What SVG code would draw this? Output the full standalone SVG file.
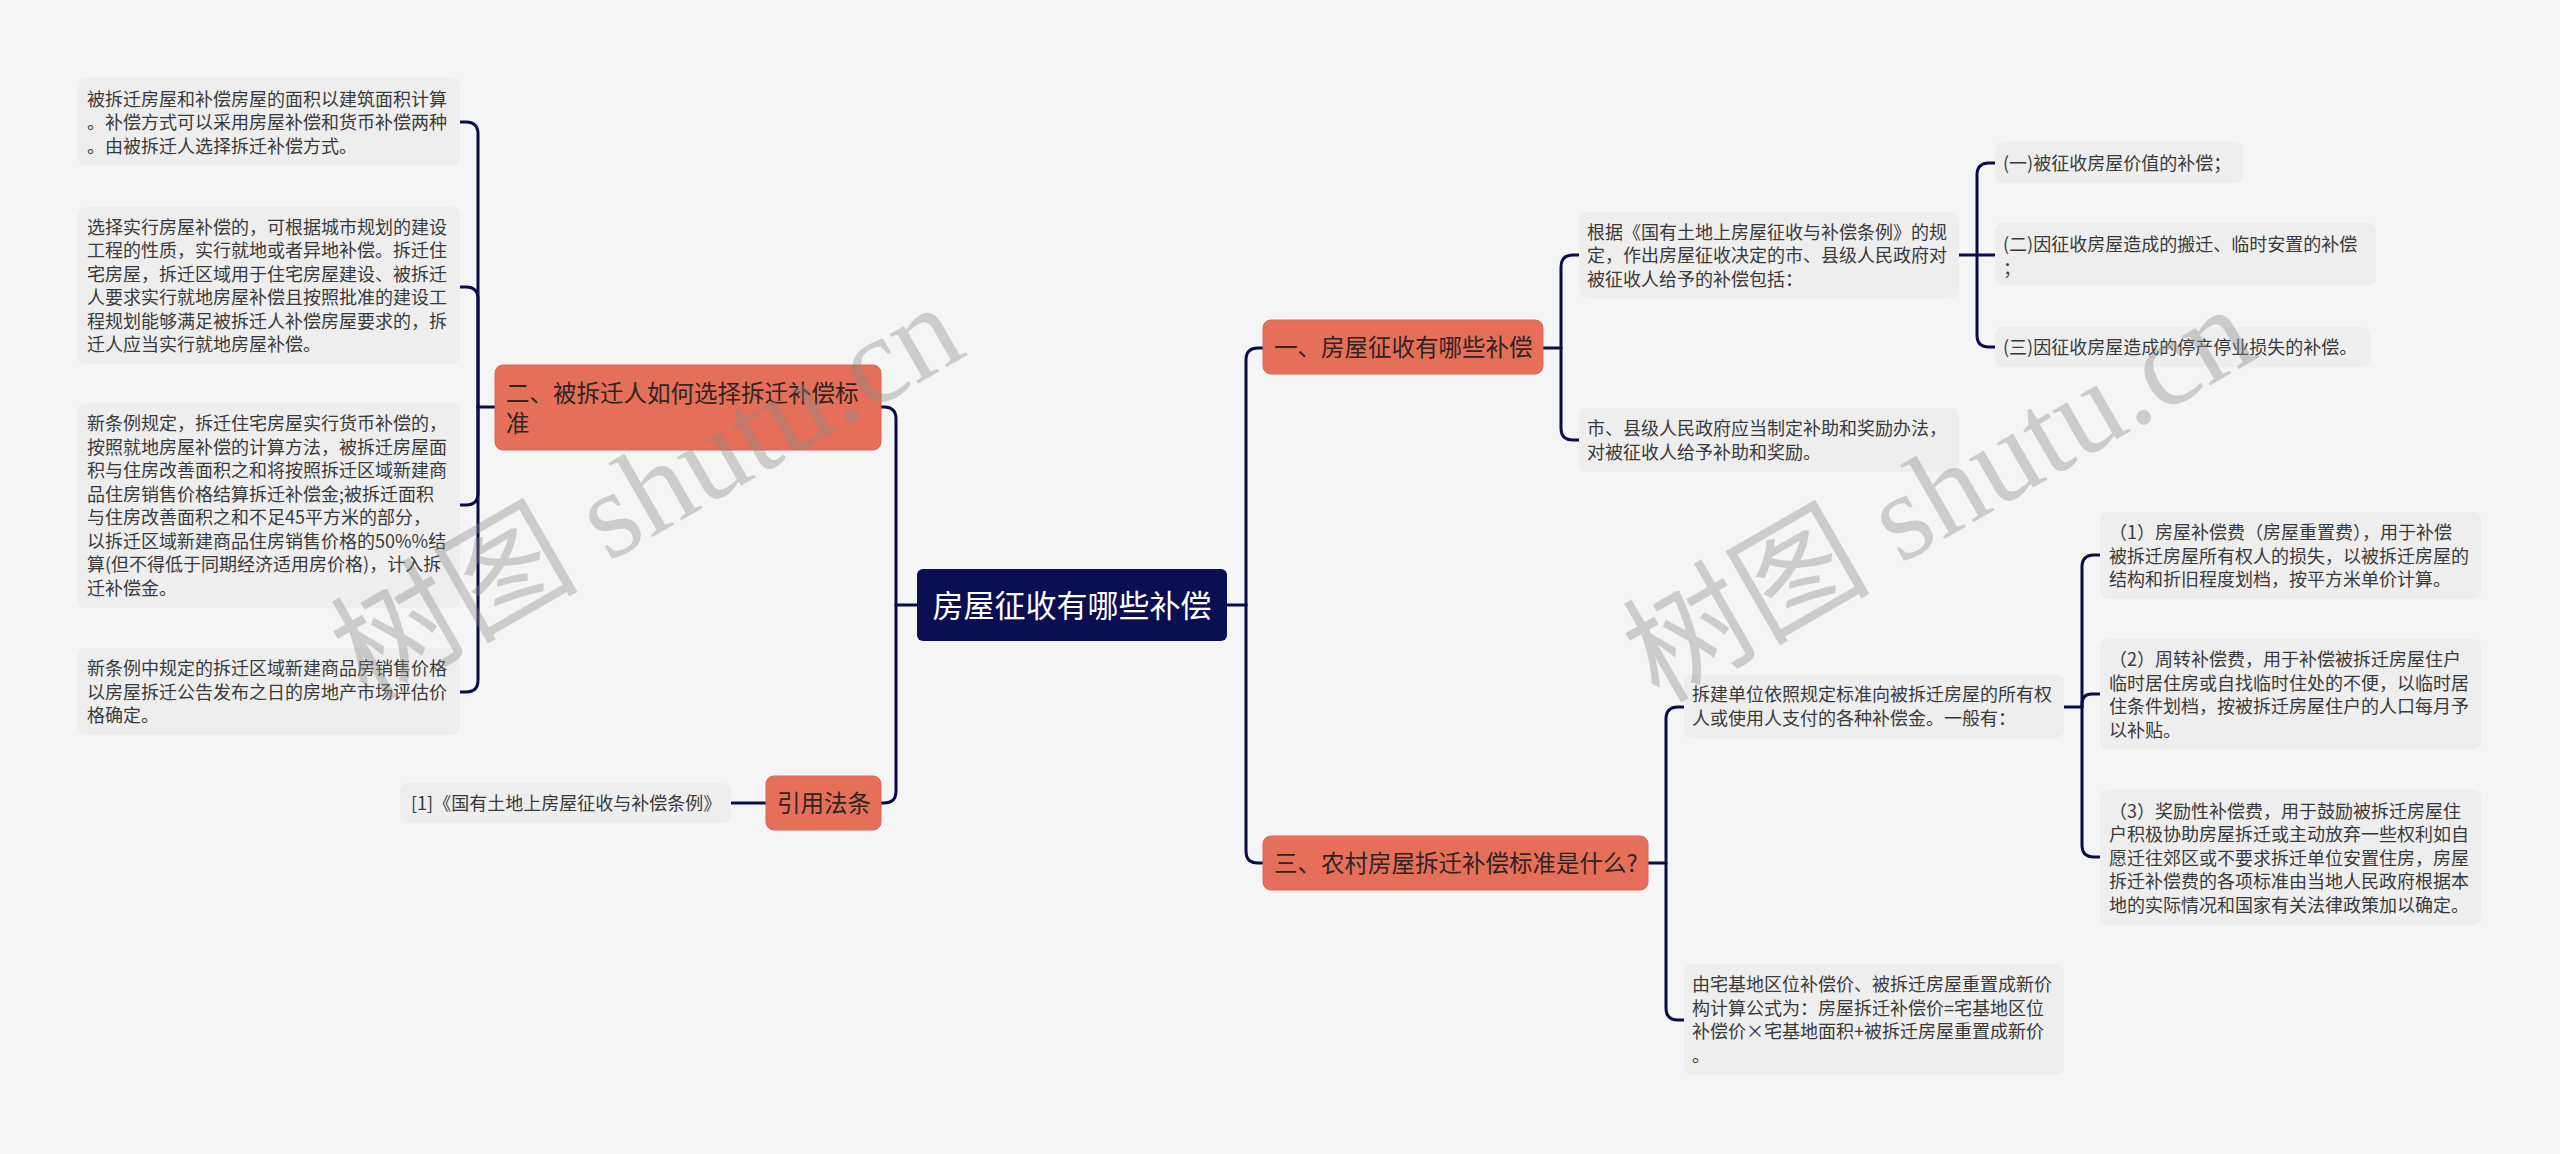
<svg xmlns="http://www.w3.org/2000/svg" width="2560" height="1154" viewBox="0 0 2560 1154">
<style>
.leaf{fill:#eeeeee;}
.lt{font-family:"Noto Sans CJK SC","Noto Sans",sans-serif;font-size:18px;fill:#3a3a3a;}
.br{fill:#e66f5a;stroke:#dc6650;stroke-width:1;}
.bt{font-family:"Noto Sans CJK SC","Noto Sans",sans-serif;font-size:23.5px;fill:#2e2523;}
.ct{font-family:"Noto Sans CJK SC","Noto Sans",sans-serif;font-size:31px;fill:#ffffff;}
.conn path{fill:none;stroke:#0b0d4a;stroke-width:3;stroke-linecap:round;}
.wm{font-family:"Liberation Serif","Noto Sans CJK SC",serif;font-size:124px;fill:#8a8a8a;fill-opacity:0.38;}
</style>
<rect x="0" y="0" width="2560" height="1154" fill="#f5f5f5"/>

<g id="connectors" class="conn">
<path d="M917,605 H896"/>
<path d="M896,605 V419 Q896,407 884,407 H881"/>
<path d="M896,605 V791 Q896,803 884,803 H881"/>
<path d="M495,407 H478"/>
<path d="M478,407 V134 Q478,122 466,122 H460"/>
<path d="M478,407 V299 Q478,287 466,287 H460"/>
<path d="M478,407 V493 Q478,505 466,505 H460"/>
<path d="M478,407 V680 Q478,692 466,692 H460"/>
<path d="M766,803 H731"/>
<path d="M1227,605 H1246"/>
<path d="M1246,605 V360 Q1246,348 1258,348 H1263"/>
<path d="M1246,605 V851 Q1246,863 1258,863 H1263"/>
<path d="M1543,348 H1561"/>
<path d="M1561,348 V267 Q1561,255 1573,255 H1579"/>
<path d="M1561,348 V428 Q1561,440 1573,440 H1579"/>
<path d="M1959,255 H1995"/>
<path d="M1977,255 V175 Q1977,163 1989,163 H1995"/>
<path d="M1977,255 V335 Q1977,347 1989,347 H1995"/>
<path d="M1648,863 H1666"/>
<path d="M1666,863 V719 Q1666,707 1678,707 H1684"/>
<path d="M1666,863 V1008 Q1666,1020 1678,1020 H1684"/>
<path d="M2064,707 H2082"/>
<path d="M2082,707 V567 Q2082,555 2094,555 H2100"/>
<path d="M2082,707 V704 Q2082,694 2092,694 H2100"/>
<path d="M2082,707 V845 Q2082,857 2094,857 H2100"/>
</g>

<g id="root">
<rect x="917" y="569" width="310" height="72" rx="6" fill="#0a0e52"/>
<text class="ct" x="1072" y="617" text-anchor="middle">房屋征收有哪些补偿</text>
</g>

<g id="b2">
<rect class="br" x="495" y="365" width="386" height="85" rx="8"/>
<text class="bt" x="506" y="402">二、被拆迁人如何选择拆迁补偿标<tspan x="506" dy="30">准</tspan></text>
</g>

<g id="ref">
<rect class="br" x="766" y="776" width="115" height="54" rx="8"/>
<text class="bt" x="777" y="812">引用法条</text>
</g>

<g id="ref1">
<rect class="leaf" x="400" y="783" width="331" height="40" rx="8"/>
<text class="lt" x="411" y="810">[1]《国有土地上房屋征收与补偿条例》</text>
</g>

<g id="l1">
<rect class="leaf" x="78" y="78" width="382" height="88" rx="8"/>
<text class="lt" x="87" y="105.5">被拆迁房屋和补偿房屋的面积以建筑面积计算<tspan x="87" dy="23.5">。补偿方式可以采用房屋补偿和货币补偿两种</tspan><tspan x="87" dy="23.5">。由被拆迁人选择拆迁补偿方式。</tspan></text>
</g>

<g id="l2">
<rect class="leaf" x="78" y="207" width="382" height="157" rx="8"/>
<text class="lt" x="87" y="233.75">选择实行房屋补偿的，可根据城市规划的建设<tspan x="87" dy="23.5">工程的性质，实行就地或者异地补偿。拆迁住</tspan><tspan x="87" dy="23.5">宅房屋，拆迁区域用于住宅房屋建设、被拆迁</tspan><tspan x="87" dy="23.5">人要求实行就地房屋补偿且按照批准的建设工</tspan><tspan x="87" dy="23.5">程规划能够满足被拆迁人补偿房屋要求的，拆</tspan><tspan x="87" dy="23.5">迁人应当实行就地房屋补偿。</tspan></text>
</g>

<g id="l3">
<rect class="leaf" x="78" y="403" width="382" height="205" rx="8"/>
<text class="lt" x="87" y="430.25">新条例规定，拆迁住宅房屋实行货币补偿的，<tspan x="87" dy="23.5">按照就地房屋补偿的计算方法，被拆迁房屋面</tspan><tspan x="87" dy="23.5">积与住房改善面积之和将按照拆迁区域新建商</tspan><tspan x="87" dy="23.5">品住房销售价格结算拆迁补偿金;被拆迁面积</tspan><tspan x="87" dy="23.5">与住房改善面积之和不足45平方米的部分，</tspan><tspan x="87" dy="23.5">以拆迁区域新建商品住房销售价格的50%%结</tspan><tspan x="87" dy="23.5">算(但不得低于同期经济适用房价格)，计入拆</tspan><tspan x="87" dy="23.5">迁补偿金。</tspan></text>
</g>

<g id="l4">
<rect class="leaf" x="78" y="648" width="382" height="87" rx="8"/>
<text class="lt" x="87" y="675">新条例中规定的拆迁区域新建商品房销售价格<tspan x="87" dy="23.5">以房屋拆迁公告发布之日的房地产市场评估价</tspan><tspan x="87" dy="23.5">格确定。</tspan></text>
</g>

<g id="b1">
<rect class="br" x="1263" y="320" width="280" height="54" rx="8"/>
<text class="bt" x="1274" y="356">一、房屋征收有哪些补偿</text>
</g>

<g id="ra">
<rect class="leaf" x="1579" y="212" width="380" height="86" rx="8"/>
<text class="lt" x="1587" y="238.5">根据《国有土地上房屋征收与补偿条例》的规<tspan x="1587" dy="23.5">定，作出房屋征收决定的市、县级人民政府对</tspan><tspan x="1587" dy="23.5">被征收人给予的补偿包括：</tspan></text>
</g>

<g id="rb">
<rect class="leaf" x="1579" y="408" width="380" height="64" rx="8"/>
<text class="lt" x="1587" y="435.25">市、县级人民政府应当制定补助和奖励办法，<tspan x="1587" dy="23.5">对被征收人给予补助和奖励。</tspan></text>
</g>

<g id="rc1">
<rect class="leaf" x="1995" y="142" width="248" height="41" rx="8"/>
<text class="lt" x="2003" y="169.5">(一)被征收房屋价值的补偿；</text>
</g>

<g id="rc2">
<rect class="leaf" x="1995" y="223" width="381" height="63" rx="8"/>
<text class="lt" x="2003" y="251">(二)因征收房屋造成的搬迁、临时安置的补偿<tspan x="2003" dy="23.5">；</tspan></text>
</g>

<g id="rc3">
<rect class="leaf" x="1995" y="327" width="375" height="40" rx="8"/>
<text class="lt" x="2003" y="354">(三)因征收房屋造成的停产停业损失的补偿。</text>
</g>

<g id="b3">
<rect class="br" x="1263" y="836" width="385" height="54" rx="8"/>
<text class="bt" x="1274" y="872">三、农村房屋拆迁补偿标准是什么?</text>
</g>

<g id="rd">
<rect class="leaf" x="1684" y="674" width="380" height="64" rx="8"/>
<text class="lt" x="1692" y="701.25">拆建单位依照规定标准向被拆迁房屋的所有权<tspan x="1692" dy="23.5">人或使用人支付的各种补偿金。一般有：</tspan></text>
</g>

<g id="re">
<rect class="leaf" x="1684" y="964" width="380" height="111" rx="8"/>
<text class="lt" x="1692" y="991.25">由宅基地区位补偿价、被拆迁房屋重置成新价<tspan x="1692" dy="23.5">构计算公式为：房屋拆迁补偿价=宅基地区位</tspan><tspan x="1692" dy="23.5">补偿价×宅基地面积+被拆迁房屋重置成新价</tspan><tspan x="1692" dy="23.5">。</tspan></text>
</g>

<g id="rf1">
<rect class="leaf" x="2100" y="512" width="381" height="87" rx="8"/>
<text class="lt" x="2109" y="539">（1）房屋补偿费（房屋重置费），用于补偿<tspan x="2109" dy="23.5">被拆迁房屋所有权人的损失，以被拆迁房屋的</tspan><tspan x="2109" dy="23.5">结构和折旧程度划档，按平方米单价计算。</tspan></text>
</g>

<g id="rf2">
<rect class="leaf" x="2100" y="639" width="381" height="111" rx="8"/>
<text class="lt" x="2109" y="666.25">（2）周转补偿费，用于补偿被拆迁房屋住户<tspan x="2109" dy="23.5">临时居住房或自找临时住处的不便，以临时居</tspan><tspan x="2109" dy="23.5">住条件划档，按被拆迁房屋住户的人口每月予</tspan><tspan x="2109" dy="23.5">以补贴。</tspan></text>
</g>

<g id="rf3">
<rect class="leaf" x="2100" y="790" width="381" height="135" rx="8"/>
<text class="lt" x="2109" y="817.5">（3）奖励性补偿费，用于鼓励被拆迁房屋住<tspan x="2109" dy="23.5">户积极协助房屋拆迁或主动放弃一些权利如自</tspan><tspan x="2109" dy="23.5">愿迁往郊区或不要求拆迁单位安置住房，房屋</tspan><tspan x="2109" dy="23.5">拆迁补偿费的各项标准由当地人民政府根据本</tspan><tspan x="2109" dy="23.5">地的实际情况和国家有关法律政策加以确定。</tspan></text>
</g>

<g id="watermark">
<text class="wm" x="668" y="528" text-anchor="middle" transform="rotate(-30 668 528)">树图 shutu.cn</text>
<text class="wm" x="1960" y="530" text-anchor="middle" transform="rotate(-30 1960 530)">树图 shutu.cn</text>
</g>
</svg>
